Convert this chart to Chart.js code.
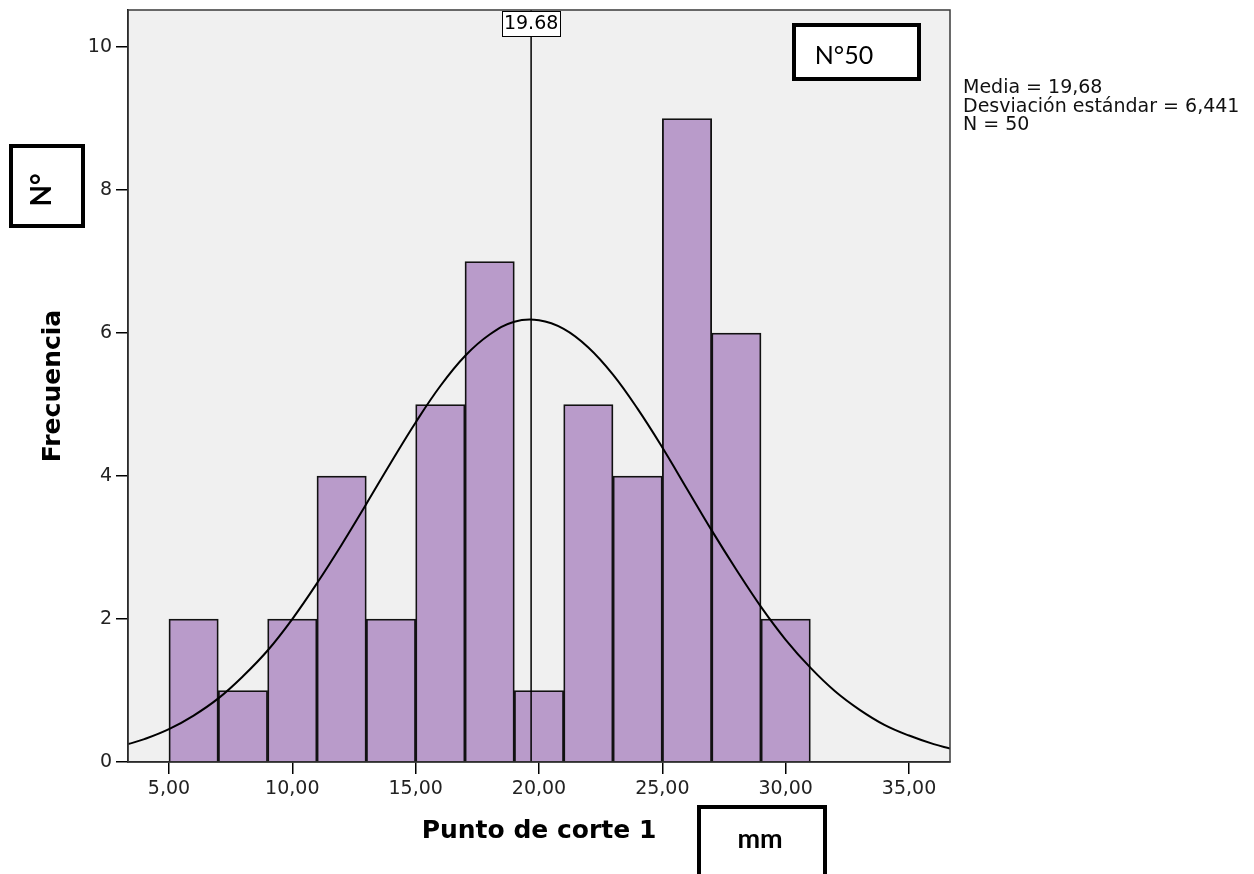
<!DOCTYPE html>
<html>
<head>
<meta charset="utf-8">
<title>Punto de corte 1</title>
<script src="https://cdn.jsdelivr.net/npm/chart.js@4"></script>
<style>
  body { margin: 0; background: #ffffff; }
  canvas { display: block; }
</style>
</head>
<body>
<canvas id="histogram" width="1254" height="874"></canvas>
<script>
//====================================
// DATA
// Bin centres of the histogram (bins are 2 mm wide, 5 to 31)
const binCenters = [6, 8, 10, 12, 14, 16, 18, 20, 22, 24, 26, 28, 30];
const frequencies = [2, 1, 2, 4, 2, 5, 7, 1, 5, 4, 9, 6, 2];

// Normal curve
const curveX = [3.34, 4, 5, 6, 7, 8, 9, 10, 11, 12, 13, 14, 15, 16, 17, 18, 19, 20,
                21, 22, 23, 24, 25, 26, 27, 28, 29, 30, 31, 32, 33, 34, 35, 36, 36.66];
const curveY = [0.25, 0.32, 0.46, 0.65, 0.89, 1.20, 1.56, 2.00, 2.50, 3.04, 3.61, 4.19, 4.75, 5.26, 5.68, 5.98, 6.16, 6.18,
                6.06, 5.80, 5.42, 4.94, 4.40, 3.82, 3.24, 2.69, 2.17, 1.71, 1.32, 0.99, 0.73, 0.52, 0.37, 0.25, 0.19];

// Mean marker and stats text
const meanValue = 19.68;
const meanLabel = "19.68";
const statsLines = ["Media = 19,68", "Desviación estándar = 6,441", "N = 50"];

// Axis ticks and ranges
const xTicks = [5, 10, 15, 20, 25, 30, 35];
const yTicks = [0, 2, 4, 6, 8, 10];
const xRange = [3.34, 36.66];
const yRange = [0, 10.52];

//====================================
// Small helpers: thick-bordered white box, and centred (maybe rotated) text
function drawBox(ctx, x, y, w, h){
    ctx.save();
    ctx.fillStyle = "#ffffff";
    ctx.fillRect(x, y, w, h);
    ctx.lineWidth = 4;
    ctx.strokeStyle = "#000000";
    ctx.strokeRect(x, y, w, h);
    ctx.restore();
}

function drawCentredText(ctx, text, cx, cy, font, angle){
    ctx.save();
    ctx.translate(cx, cy);
    if(angle){ ctx.rotate(angle); }
    ctx.font = font;
    ctx.fillStyle = "#000000";
    ctx.textAlign = "center";
    ctx.textBaseline = "middle";
    ctx.fillText(text, 0, 0);
    ctx.restore();
}

//====================================
// Plugin: grey plot background, plot frame and the extra annotations
const spssLook = {
    id: "spssLook",
    beforeDraw(chart){
        const {ctx, chartArea: a} = chart;
        ctx.save();
        ctx.fillStyle = "#f0f0f0";
        ctx.fillRect(a.left, a.top, a.right - a.left, a.bottom - a.top);
        ctx.restore();
    },
    afterDatasetsDraw(chart){
        const {ctx, chartArea: a} = chart;
        ctx.save();
        ctx.strokeStyle = "#3a3a3a";
        ctx.lineWidth = 1.5;
        ctx.strokeRect(a.left, a.top, a.right - a.left, a.bottom - a.top);
        ctx.restore();
    },
    afterDraw(chart){
        const {ctx, chartArea: a} = chart;
        const xScale = chart.scales.x;

        // Mean label box at the top of the mean line
        const mx = xScale.getPixelForValue(meanValue);
        ctx.save();
        ctx.font = "19px 'DejaVu Sans'";
        const tw = ctx.measureText(meanLabel).width + 4;
        ctx.fillStyle = "#ffffff";
        ctx.fillRect(mx - tw / 2, a.top + 1, tw, 25);
        ctx.strokeStyle = "#000000";
        ctx.lineWidth = 1;
        ctx.strokeRect(Math.round(mx - tw / 2) + 0.5, a.top + 1.5, Math.round(tw), 25);
        ctx.fillStyle = "#000000";
        ctx.textAlign = "center";
        ctx.textBaseline = "middle";
        ctx.fillText(meanLabel, mx, a.top + 14);
        ctx.restore();

        // Stats text on the right
        ctx.save();
        ctx.font = "19px 'DejaVu Sans'";
        ctx.fillStyle = "#111111";
        ctx.textAlign = "left";
        ctx.textBaseline = "alphabetic";
        statsLines.forEach((line, i) => ctx.fillText(line, a.right + 13, 93 + i * 18.5));
        ctx.restore();

        // Hand-added boxes: N°50, N° and mm
        drawBox(ctx, 794, 25, 125, 54);
        drawCentredText(ctx, "N°50", 844, 56, "25px Lato");

        drawBox(ctx, 11, 146, 72, 80);
        drawCentredText(ctx, "N°", 42, 190, "bold 28px Lato", -Math.PI / 2);

        drawBox(ctx, 699, 807, 126, 100);
        drawCentredText(ctx, "mm", 760, 839, "bold 27px Lato");
    }
};

//====================================
// Building the datasets from the arrays above
const barPoints = binCenters.map((x, i) => ({x: x, y: frequencies[i]}));
const curvePoints = curveX.map((x, i) => ({x: x, y: curveY[i]}));
const meanPoints = [{x: meanValue, y: yRange[0]}, {x: meanValue, y: yRange[1]}];

const tickFont = {family: "'DejaVu Sans'", size: 19};
const titleFont = {family: "'DejaVu Sans'", size: 25, weight: "bold"};

const config = {
    type: "bar",
    data: {
        datasets: [
            {
                type: "line",
                data: meanPoints,
                borderColor: "#000000",
                borderWidth: 1.5,
                pointRadius: 0,
                order: 0
            },
            {
                type: "line",
                data: curvePoints,
                borderColor: "#000000",
                borderWidth: 2,
                pointRadius: 0,
                tension: 0.4,
                order: 1
            },
            {
                type: "bar",
                data: barPoints,
                backgroundColor: "rgb(185, 155, 202)",
                borderColor: "#111111",
                borderWidth: 1.8,
                barPercentage: 1.0,
                categoryPercentage: 1.0,
                order: 2
            }
        ]
    },
    options: {
        responsive: false,
        animation: false,
        devicePixelRatio: 1,
        layout: {padding: {left: 0, top: 10, right: 304, bottom: 0}},
        plugins: {legend: {display: false}, tooltip: {enabled: false}},
        scales: {
            x: {
                type: "linear",
                min: xRange[0],
                max: xRange[1],
                offset: false,
                afterBuildTicks: s => { s.ticks = xTicks.map(v => ({value: v})); },
                afterFit: s => { s.height = 112; s.paddingLeft = 0; s.paddingRight = 0; },
                grid: {offset: false, drawOnChartArea: false, drawTicks: true, tickLength: 12, color: "#000000", lineWidth: 1.5},
                border: {display: true, color: "#000000", width: 1.5},
                ticks: {
                    font: tickFont,
                    color: "#222222",
                    padding: 4,
                    maxRotation: 0,
                    callback: v => v.toFixed(2).replace(".", ",")
                },
                title: {
                    display: true,
                    text: "Punto de corte 1",
                    font: titleFont,
                    color: "#000000",
                    padding: {top: 0, bottom: 28}
                }
            },
            y: {
                min: yRange[0],
                max: yRange[1],
                afterBuildTicks: s => { s.ticks = yTicks.map(v => ({value: v})); },
                afterFit: s => { s.width = 128; s.paddingTop = 0; s.paddingBottom = 0; },
                grid: {drawOnChartArea: false, drawTicks: true, tickLength: 12, color: "#000000", lineWidth: 1.5},
                border: {display: true, color: "#000000", width: 1.5},
                ticks: {
                    font: tickFont,
                    color: "#222222",
                    padding: 4,
                    callback: v => String(v)
                },
                title: {
                    display: true,
                    text: "Frecuencia",
                    font: titleFont,
                    color: "#000000",
                    padding: {top: 38, bottom: 0}
                }
            }
        }
    },
    plugins: [spssLook]
};

// Creating the chart
const chart = new Chart(document.getElementById("histogram"), config);
</script>
</body>
</html>
